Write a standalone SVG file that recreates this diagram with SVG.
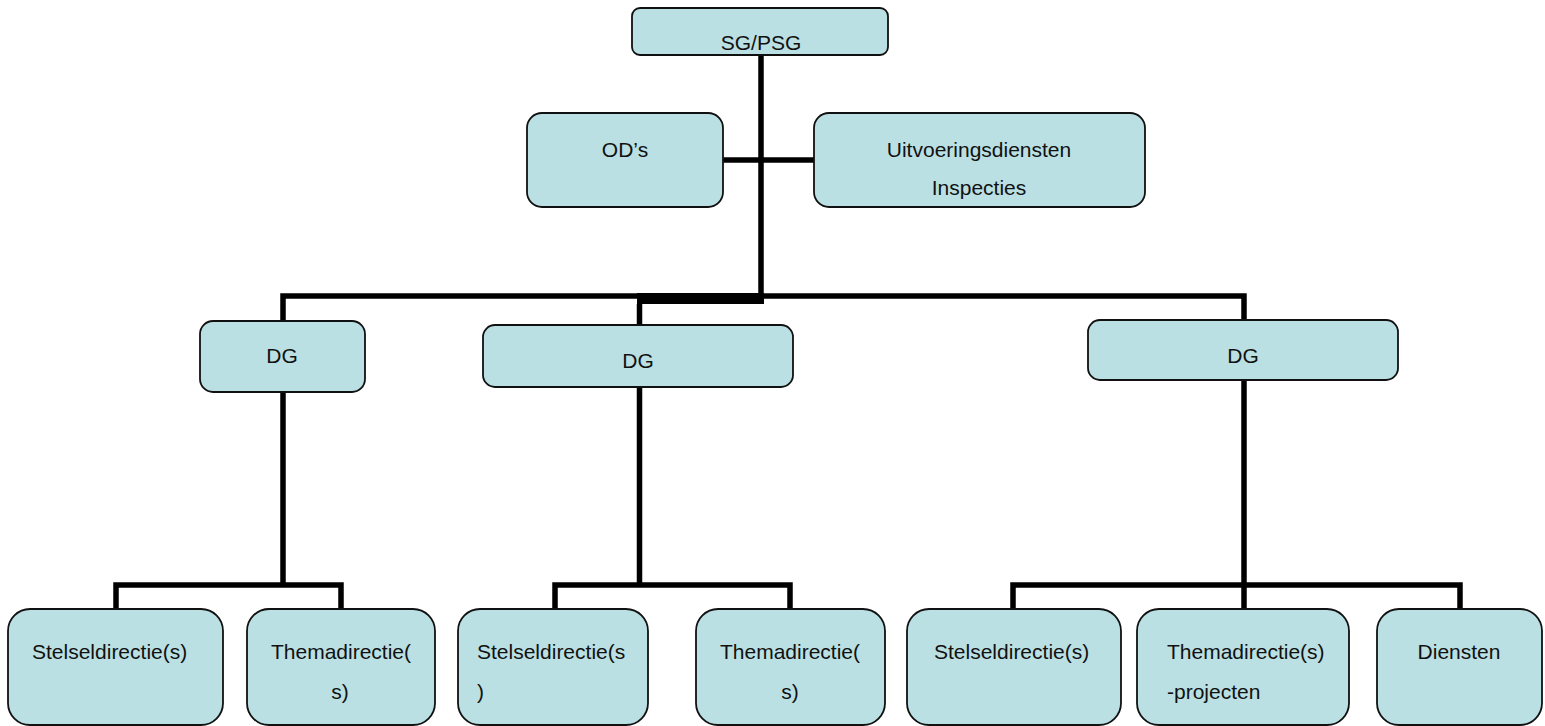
<svg xmlns="http://www.w3.org/2000/svg" width="1545" height="726" viewBox="0 0 1545 726">
<style>
.box{fill:#BAE0E3;stroke:#111;stroke-width:1.8}
.t{font-family:"Liberation Sans",Arial,sans-serif;font-size:21px;fill:#111}
.m{text-anchor:middle}
.c{fill:none;stroke:#000;stroke-width:5.5;stroke-linejoin:miter;stroke-linecap:butt}
</style>
<rect width="1545" height="726" fill="#fff"/>
<g id="connectors">
<path class="c" d="M761 55 V304"/>
<path class="c" d="M723 160 H814"/>
<path class="c" d="M283 321 V296 H1244 V320"/>
<rect x="637" y="293" width="127" height="11" fill="#000"/>
<path class="c" d="M639.5 304 V325"/>
<path class="c" d="M283 392 V585"/>
<path class="c" d="M116 609 V585 H341 V609"/>
<path class="c" d="M639.5 387 V585"/>
<path class="c" d="M555 609 V585 H790 V609"/>
<path class="c" d="M1244 380 V609"/>
<path class="c" d="M1013 609 V585 H1460 V609"/>
</g>
<g id="sg"><rect class="box" x="632" y="8" width="256" height="47" rx="8"/><text class="t m" x="761" y="50">SG/PSG</text></g>
<g id="ods"><rect class="box" x="527" y="113" width="196" height="94" rx="15"/><text class="t m" x="625" y="157">OD’s</text></g>
<g id="uitv"><rect class="box" x="814" y="113" width="331" height="94" rx="15"/><text class="t m" x="979" y="157">Uitvoeringsdiensten</text><text class="t m" x="979" y="195">Inspecties</text></g>
<g id="dg1"><rect class="box" x="200" y="321" width="165" height="71" rx="13"/><text class="t m" x="282" y="363">DG</text></g>
<g id="dg2"><rect class="box" x="483" y="325" width="310" height="62" rx="12"/><text class="t m" x="638" y="368">DG</text></g>
<g id="dg3"><rect class="box" x="1088" y="320" width="310" height="60" rx="12"/><text class="t m" x="1243" y="363">DG</text></g>
<g id="stel1"><rect class="box" x="8" y="609" width="215" height="116" rx="22"/><text class="t" x="32" y="659">Stelseldirectie(s)</text></g>
<g id="thema1"><rect class="box" x="247" y="609" width="188" height="116" rx="22"/><text class="t m" x="341" y="659">Themadirectie(</text><text class="t m" x="340" y="699">s)</text></g>
<g id="stel2"><rect class="box" x="458" y="609" width="190" height="116" rx="22"/><text class="t" x="477" y="659">Stelseldirectie(s</text><text class="t" x="477" y="699">)</text></g>
<g id="thema2"><rect class="box" x="696" y="609" width="189" height="116" rx="22"/><text class="t m" x="790" y="659">Themadirectie(</text><text class="t m" x="790" y="699">s)</text></g>
<g id="stel3"><rect class="box" x="907" y="609" width="214" height="116" rx="22"/><text class="t" x="934" y="659">Stelseldirectie(s)</text></g>
<g id="thema3"><rect class="box" x="1137" y="609" width="212" height="116" rx="22"/><text class="t" x="1167" y="659">Themadirectie(s)</text><text class="t" x="1167" y="699">-projecten</text></g>
<g id="diensten"><rect class="box" x="1377" y="609" width="165" height="116" rx="22"/><text class="t m" x="1459" y="659">Diensten</text></g>
</svg>
